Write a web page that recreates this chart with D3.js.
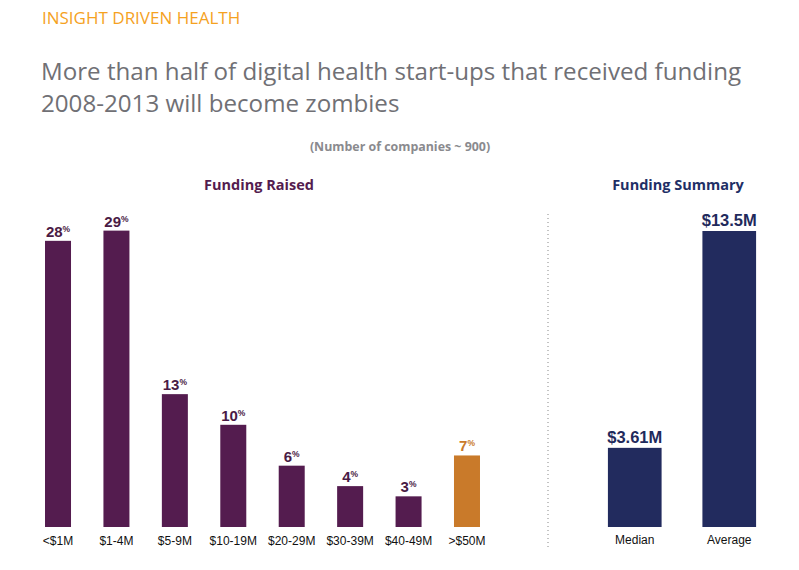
<!DOCTYPE html>
<html>
<head>
<meta charset="utf-8">
<script src="https://cdn.jsdelivr.net/npm/d3@7"></script>
<style>
  html, body { margin: 0; padding: 0; background: #fff; }
  svg { display: block; font-family: "Open Sans", "Noto Sans", sans-serif; }
</style>
</head>
<body>
<svg id="chart" width="799" height="570"></svg>
<script>
const categories = ["<$1M", "$1-4M", "$5-9M", "$10-19M", "$20-29M", "$30-39M", "$40-49M", ">$50M"];
const shares = [28, 29, 13, 10, 6, 4, 3, 7];
const summaryLabels = ["Median", "Average"];
const summaryValues = [3.61, 13.5];
const summaryText = ["$3.61M", "$13.5M"];

const svg = d3.select("#chart");
const purple = "#541C4F", orange = "#C97A2A", navy = "#222B5E";
const baseY = 527;
const tickFont = "\"Liberation Sans\", Arial, sans-serif";

// Header texts
svg.append("text").attr("x", 42).attr("y", 24).attr("font-size", 17)
  .attr("fill", "#F5A21F").text("INSIGHT DRIVEN HEALTH");
svg.append("text").attr("x", 41).attr("y", 80).attr("font-size", 24.15)
  .attr("fill", "#707075").text("More than half of digital health start-ups that received funding");
svg.append("text").attr("x", 41).attr("y", 112).attr("font-size", 24.15)
  .attr("fill", "#707075").text("2008-2013 will become zombies");
svg.append("text").attr("x", 400).attr("y", 151).attr("font-size", 12.4)
  .attr("font-weight", "bold").attr("text-anchor", "middle")
  .attr("fill", "#8a8a8e").text("(Number of companies ~ 900)");

svg.append("text").attr("x", 259).attr("y", 190).attr("font-size", 14.5)
  .attr("font-weight", "bold").attr("text-anchor", "middle")
  .attr("fill", purple).text("Funding Raised");
svg.append("text").attr("x", 678).attr("y", 190).attr("font-size", 14.5)
  .attr("font-weight", "bold").attr("text-anchor", "middle")
  .attr("fill", "#1F2F66").text("Funding Summary");

// Left chart
const x = d3.scaleBand().domain(categories).range([28.8, 496.2])
  .paddingInner(0.555).paddingOuter(0.2775);
const y = d3.scaleLinear().domain([0, 29]).range([baseY, baseY - 29 * 10.22]);

const lg = svg.append("g");
lg.selectAll("rect").data(categories).join("rect")
  .attr("x", d => x(d)).attr("width", x.bandwidth())
  .attr("y", (d, i) => y(shares[i])).attr("height", (d, i) => baseY - y(shares[i]))
  .attr("fill", (d, i) => i === 7 ? orange : purple);

const lbl = lg.selectAll("text.val").data(categories).join("text")
  .attr("class", "val")
  .attr("x", d => x(d) + x.bandwidth() / 2)
  .attr("y", (d, i) => y(shares[i]) - 4)
  .attr("text-anchor", "middle")
  .attr("font-weight", "bold")
  .attr("font-family", tickFont)
  .attr("fill", (d, i) => i === 7 ? orange : "#4A1B45");
lbl.append("tspan").attr("font-size", 15).text((d, i) => shares[i]);
lbl.append("tspan").attr("font-size", 8.5).attr("dy", -5).text("%");

const xAxis = d3.axisBottom(x).tickSize(0).tickPadding(9);
lg.append("g").attr("transform", `translate(0,${baseY})`).call(xAxis)
  .call(g => g.select(".domain").remove())
  .selectAll("text").attr("font-size", 12).attr("fill", "#111")
  .attr("font-family", tickFont);

// Divider
svg.append("line").attr("x1", 548).attr("x2", 548).attr("y1", 214).attr("y2", 547)
  .attr("stroke", "#888").attr("stroke-width", 1).attr("stroke-dasharray", "1,3");

// Right chart
const x2 = d3.scaleBand().domain(summaryLabels).range([587.5, 776.5])
  .paddingInner(0.432).paddingOuter(0.216);
const y2 = d3.scaleLinear().domain([0, 13.5]).range([baseY, baseY - 296]);

const rg = svg.append("g");
rg.selectAll("rect").data(summaryLabels).join("rect")
  .attr("x", d => x2(d)).attr("width", x2.bandwidth())
  .attr("y", (d, i) => y2(summaryValues[i]))
  .attr("height", (d, i) => baseY - y2(summaryValues[i]))
  .attr("fill", navy);
rg.selectAll("text.val").data(summaryLabels).join("text")
  .attr("class", "val")
  .attr("x", d => x2(d) + x2.bandwidth() / 2)
  .attr("y", (d, i) => y2(summaryValues[i]) - 5)
  .attr("text-anchor", "middle").attr("font-weight", "bold")
  .attr("font-family", tickFont)
  .attr("font-size", 16.5).attr("fill", "#1F2A5C")
  .text((d, i) => summaryText[i]);

const xAxis2 = d3.axisBottom(x2).tickSize(0).tickPadding(8);
rg.append("g").attr("transform", `translate(0,${baseY})`).call(xAxis2)
  .call(g => g.select(".domain").remove())
  .selectAll("text").attr("font-size", 12).attr("fill", "#111")
  .attr("font-family", tickFont);
</script>
</body>
</html>
